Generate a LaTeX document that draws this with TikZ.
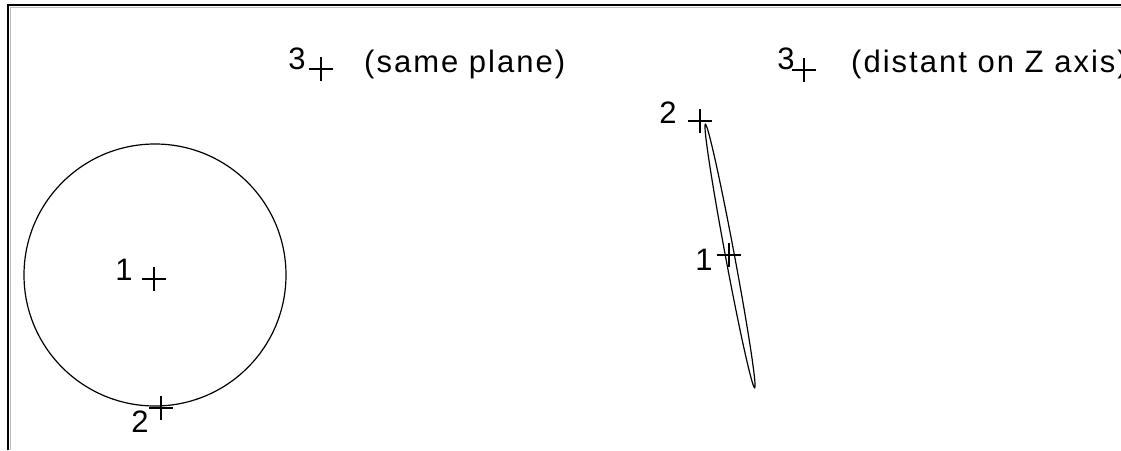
\documentclass[tikz,border=0pt]{standalone}
\usepackage{fontspec}
\setmainfont{Liberation Sans}[LetterSpace=6.5]
\usetikzlibrary{positioning,shapes.geometric,shapes.misc}

\begin{document}
\begin{tikzpicture}[x=1pt, y=-1pt,
    lbl/.style={font=\fontsize{31}{36}\selectfont, inner sep=0pt, anchor=#1},
    lbl/.default=base,
    plusmark/.style={draw, cross out, rotate=45, minimum size=15.5pt,
                     inner sep=0pt, line width=1.2pt},
    ring/.style={draw, line width=1.2pt, inner sep=0pt}]

    \useasboundingbox (0,0) rectangle (1121,450);

    % frame
    \draw[line width=2pt] (8,450) -- (8,5) -- (1121,5);
    \draw[gray!50, line width=1pt] (10.5,450) -- (10.5,7.5) -- (1121,7.5);

    % same plane
    \node[ring, circle, minimum size=262pt] (orbita) at (155,275) {};
    \node[plusmark] (m1a) at (154,279) {};
    \node[plusmark] (m2a) at (161,408) {};
    \node[plusmark] (m3a) at (321,69) {};
    \node[lbl] (n1a) at (124,280) {1};
    \node[lbl] (n2a) at (140,432) {2};
    \node[lbl] (n3a) at (297,69) {3};
    \node[lbl=base west] (capa) at (364,72) {(same plane)};

    % distant on Z axis
    \node[ring, ellipse, minimum width=268pt, minimum height=9pt, rotate=-79.4]
      (orbitb) at (730,256) {};
    \node[plusmark] (m1b) at (729,255) {};
    \node[plusmark] (m2b) at (700,121) {};
    \node[plusmark] (m3b) at (804,70) {};
    \node[lbl] (n1b) at (704,270) {1};
    \node[lbl] (n2b) at (668,123) {2};
    \node[lbl] (n3b) at (786,69) {3};
    \node[lbl=base west] (capb) at (851,72) {(distant on Z axis)};
  \end{tikzpicture}
\end{document}
